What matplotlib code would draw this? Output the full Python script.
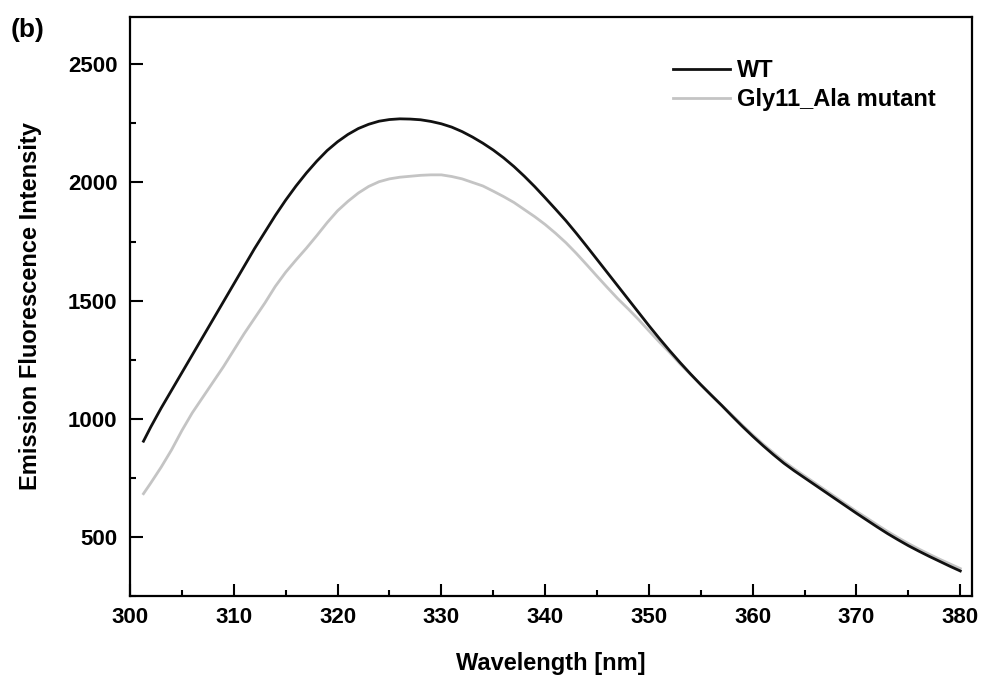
import matplotlib
matplotlib.use("Agg")
import matplotlib.pyplot as plt
from matplotlib.ticker import MultipleLocator

plt.rcParams['font.family'] = ['Liberation Sans', 'DejaVu Sans']
plt.rcParams['font.weight'] = 'bold'

wavelength = [301.3] + list(range(302, 381))
wt = [905, 965, 1045, 1120, 1195, 1270, 1345, 1420, 1495, 1570,
      1645, 1720, 1790, 1860, 1925, 1985, 2040, 2090, 2135, 2172,
      2203, 2228, 2246, 2259, 2266, 2269, 2268, 2265, 2258, 2248,
      2234, 2215, 2192, 2166, 2137, 2104, 2067, 2026, 1982, 1935,
      1887, 1838, 1785, 1730, 1674, 1618, 1562, 1506, 1450, 1394,
      1340, 1288, 1238, 1190, 1144, 1100, 1057, 1012, 968, 926,
      886, 848, 812, 780, 750, 720, 690, 660, 630, 600,
      571, 542, 514, 488, 463, 440, 418, 397, 376, 356]
mutant = [683, 728, 795, 868, 950, 1025, 1090, 1155, 1220, 1290,
          1360, 1425, 1490, 1560, 1620, 1672, 1722, 1775, 1830, 1880,
          1920, 1955, 1983, 2003, 2015, 2022, 2026, 2030, 2032, 2032,
          2025, 2015, 2000, 1985, 1963, 1940, 1915, 1885, 1855, 1822,
          1785, 1745, 1700, 1652, 1603, 1555, 1508, 1465, 1420, 1372,
          1325, 1280, 1232, 1188, 1145, 1102, 1058, 1016, 973, 932,
          893, 856, 820, 788, 758, 728, 698, 668, 638, 608,
          580, 551, 523, 497, 472, 449, 427, 406, 386, 366]

fig = plt.figure(figsize=(9.84, 6.76), dpi=100)
ax = fig.add_axes([0.1321, 0.1183, 0.8554, 0.8566])

ax.plot(wavelength, mutant, color='#c4c4c4', lw=2.0, label='Gly11_Ala mutant')
ax.plot(wavelength, wt, color='#111111', lw=2.0, label='WT')

ax.set_xlim(300, 381.1)
ax.set_ylim(250, 2700)
ax.xaxis.set_major_locator(MultipleLocator(10))
ax.xaxis.set_minor_locator(MultipleLocator(5))
ax.yaxis.set_major_locator(MultipleLocator(500))
ax.yaxis.set_minor_locator(MultipleLocator(250))
ax.tick_params(which='both', direction='in', top=False, right=False, width=1.5, labelsize=16)
ax.tick_params(axis='y', which='both', pad=9)
ax.tick_params(axis='x', which='both', pad=8)
ax.tick_params(which='major', length=9)
ax.tick_params(which='minor', length=4.5)
for s in ax.spines.values():
    s.set_linewidth(1.6)
for lab in ax.get_xticklabels() + ax.get_yticklabels():
    lab.set_fontweight('bold')

ax.set_xlabel('Wavelength [nm]', fontsize=17, fontweight='bold', labelpad=17)
ax.set_ylabel('Emission Fluorescence Intensity', fontsize=17, fontweight='bold', labelpad=19)

h, l = ax.get_legend_handles_labels()
leg = ax.legend([h[1], h[0]], [l[1], l[0]], loc='upper left', frameon=False,
                bbox_to_anchor=(673 / 984, 1 - 59 / 676), bbox_transform=fig.transFigure,
                borderpad=0, borderaxespad=0, handlelength=2.4, handletextpad=0.3,
                labelspacing=0.25, prop={'size': 17, 'weight': 'bold'})

fig.text(11 / 984, 1 - 30 / 676, '(b)', fontsize=19, fontweight='bold', va='center', ha='left')

fig.savefig('out.png', dpi=100, facecolor='white')
